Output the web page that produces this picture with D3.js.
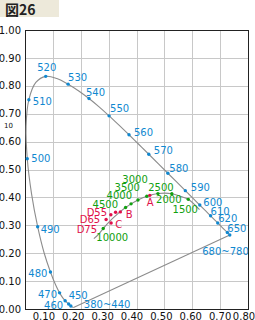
<!DOCTYPE html>
<html>
<head>
<meta charset="utf-8">
<script src="https://cdn.jsdelivr.net/npm/d3@7"></script>
<style>
  body { margin: 0; background: #fff; }
  svg text { font-family: "DejaVu Sans", sans-serif; font-size: 10px; }
</style>
</head>
<body>
<div id="chart"></div>
<script>
// spectral locus (CIE 1931 xy)
const locusNm = [380, 440, 445, 450, 455, 460, 465, 470, 475, 480, 485, 490, 495, 500, 505, 510, 515, 520, 525, 530, 535, 540, 545, 550, 555, 560, 565, 570, 575, 580, 585, 590, 595, 600, 605, 610, 620, 630, 640, 650, 680];
const locusX = [0.1741, 0.1644, 0.1611, 0.1566, 0.1510, 0.1440, 0.1355, 0.1241, 0.1096, 0.0913, 0.0687, 0.0454, 0.0235, 0.0082, 0.0039, 0.0139, 0.0389, 0.0743, 0.1142, 0.1547, 0.1929, 0.2296, 0.2658, 0.3016, 0.3373, 0.3731, 0.4087, 0.4441, 0.4788, 0.5125, 0.5448, 0.5752, 0.6029, 0.6270, 0.6482, 0.6658, 0.6915, 0.7079, 0.7190, 0.7260, 0.7347];
const locusY = [0.0050, 0.0109, 0.0138, 0.0177, 0.0227, 0.0297, 0.0399, 0.0578, 0.0868, 0.1327, 0.2007, 0.2950, 0.4127, 0.5384, 0.6548, 0.7502, 0.8120, 0.8338, 0.8262, 0.8059, 0.7816, 0.7543, 0.7243, 0.6923, 0.6589, 0.6245, 0.5896, 0.5547, 0.5202, 0.4866, 0.4544, 0.4242, 0.3965, 0.3725, 0.3514, 0.3340, 0.3083, 0.2920, 0.2809, 0.2740, 0.2653];

// labelled wavelengths (blue dots)
const waveLabels = ["380~440", "450", "460", "470", "480", "490", "500", "510", "520", "530", "540", "550", "560", "570", "580", "590", "600", "610", "620", "650", "680~780"];
const waveX = [0.1644, 0.1566, 0.1440, 0.1241, 0.0913, 0.0454, 0.0082, 0.0139, 0.0743, 0.1547, 0.2296, 0.3016, 0.3731, 0.4441, 0.5125, 0.5752, 0.6270, 0.6658, 0.6915, 0.7260, 0.7347];
const waveY = [0.0109, 0.0177, 0.0297, 0.0578, 0.1327, 0.2950, 0.5384, 0.7502, 0.8338, 0.8059, 0.7543, 0.6923, 0.6245, 0.5547, 0.4866, 0.4242, 0.3725, 0.3340, 0.3083, 0.2740, 0.2653];

// blackbody locus line
const bbLineX = [0.247, 0.2637, 0.2807, 0.2952, 0.3135, 0.3324, 0.3451, 0.3608, 0.3805, 0.4053, 0.4369, 0.4770, 0.5267, 0.5600, 0.5857, 0.6260];
const bbLineY = [0.252, 0.2674, 0.2884, 0.3048, 0.3236, 0.3410, 0.3516, 0.3636, 0.3768, 0.3907, 0.4041, 0.4137, 0.4133, 0.4030, 0.3931, 0.3560];

// colour temperatures (green dots)
const tempLabels = ["10000", "4500", "4000", "3500", "3000", "2500", "2000", "1500"];
const tempX = [0.2807, 0.3608, 0.3805, 0.4053, 0.4369, 0.4770, 0.5267, 0.5857];
const tempY = [0.2884, 0.3636, 0.3768, 0.3907, 0.4041, 0.4137, 0.4133, 0.3931];

// standard illuminants (red dots)
const illumLabels = ["A", "B", "C", "D55", "D65", "D75"];
const illumX = [0.4476, 0.342, 0.309, 0.325, 0.308, 0.291];
const illumY = [0.4074, 0.348, 0.308, 0.347, 0.338, 0.321];

// tick labels
const xTicks = [0.1, 0.2, 0.3, 0.4, 0.5, 0.6, 0.7, 0.8];
const yTicks = [0, 0.1, 0.2, 0.3, 0.4, 0.5, 0.6, 0.7, 0.8, 0.9, 1.0];

(function(){
  "use strict";

  const W = 255, H = 320;
  const left = 25, right = 248, top = 30, bottom = 309;

  const blue = "#1088d0", green = "#10a010", red = "#e0104a", lineGrey = "#8c8c8c";

  // label placement (px offset from the dot, anchor) - style only
  const waveLabelPos = {
    "380~440": [13, -2, "start"], "450": [0, -9, "start"], "460": [-2, 5, "end"],
    "470": [-2.5, 2, "end"], "480": [-3, 1.5, "end"], "490": [3, 3, "start"],
    "500": [4, 0, "start"], "510": [4, 2, "start"], "520": [1, -9, "middle"],
    "530": [0, -7, "start"], "540": [-3, -6, "start"], "550": [1, -7, "start"],
    "560": [5, -2.5, "start"], "570": [5, -3.5, "start"], "580": [1.5, -4.5, "start"],
    "590": [5.5, -3.5, "start"], "600": [3.5, -3, "start"], "610": [0, -4, "start"],
    "620": [0.5, -4.5, "start"], "650": [0, -4.5, "start"], "680~780": [19, 16, "end"]
  };
  const tempLabelPos = {
    "10000": [9, 8.5, "middle"], "4500": [-7.5, -3.5, "end"], "4000": [1, -8, "end"],
    "3500": [2, -12.3, "end"], "3000": [1, -17, "end"], "2500": [3, -6.3, "middle"],
    "2000": [-3, 5.6, "middle"], "1500": [-3, 10, "middle"]
  };
  const illumLabelPos = {
    "A": [0.5, 7.4, "middle"], "B": [5.5, 2.7, "start"], "C": [4, 1.2, "start"],
    "D55": [-8.5, 0.4, "end"], "D65": [-10.7, 5, "end"], "D75": [-9, 9.8, "end"]
  };

  const svg = d3.select("#chart").append("svg")
    .attr("width", W).attr("height", H);

  // title tab
  svg.append("rect").attr("x", 0).attr("y", 0).attr("width", 59).attr("height", 17)
    .attr("fill", "#ede9da");
  svg.append("text").attr("x", 5).attr("y", 15)
    .style("font-family", "'Noto Sans CJK JP', sans-serif")
    .style("font-size", "14px").style("font-weight", "bold")
    .attr("fill", "#222").text("図26");

  const x = d3.scaleLinear().domain([0, 0.8]).range([left, right]);
  const y = d3.scaleLinear().domain([0, 1]).range([bottom, top]);

  // grid via axes, labels removed
  svg.append("g").attr("transform", `translate(0,${bottom})`)
    .call(d3.axisBottom(x).tickValues(xTicks).tickSize(-(bottom - top)).tickFormat(""))
    .call(g => g.select(".domain").remove())
    .call(g => g.selectAll("line").attr("stroke", "#c8c8c8").attr("shape-rendering", "crispEdges"));
  svg.append("g").attr("transform", `translate(${left},0)`)
    .call(d3.axisLeft(y).tickValues(yTicks).tickSize(-(right - left)).tickFormat(""))
    .call(g => g.select(".domain").remove())
    .call(g => g.selectAll("line").attr("stroke", "#c8c8c8").attr("shape-rendering", "crispEdges"));

  svg.append("rect")
    .attr("x", left).attr("y", top)
    .attr("width", right - left).attr("height", bottom - top)
    .attr("fill", "none").attr("stroke", "#222").attr("shape-rendering", "crispEdges");

  // tick text
  svg.selectAll(".ylab").data(yTicks).enter().append("text")
    .attr("x", 21).attr("y", d => y(d) + 3.6)
    .attr("text-anchor", "end").attr("fill", "#111")
    .text(d => d.toFixed(2));

  // x labels drift a little left of the grid in the original
  svg.selectAll(".xlab").data(xTicks).enter().append("text")
    .attr("x", d => Math.min(x(d) - (0.7 - d) * 15, W - 11))
    .attr("y", 319.5)
    .attr("text-anchor", "middle").attr("fill", "#111")
    .text(d => d.toFixed(2));

  svg.append("text").attr("x", 4).attr("y", 127.5)
    .style("font-size", "7px").attr("fill", "#111").text("10");

  const line = d3.line().x(d => x(d[0])).y(d => y(d[1]));

  // spectral locus + purple line
  const locus = locusX.map((v, i) => [v, locusY[i]]);
  svg.append("path").datum(locus).attr("d", line.curve(d3.curveCatmullRom))
    .attr("fill", "none").attr("stroke", lineGrey).attr("stroke-width", 1.1);
  svg.append("path").datum([locus[locus.length - 1], locus[0]]).attr("d", line.curve(d3.curveLinear))
    .attr("fill", "none").attr("stroke", lineGrey).attr("stroke-width", 1.1);

  // blackbody locus
  const bb = bbLineX.map((v, i) => [v, bbLineY[i]]);
  svg.append("path").datum(bb).attr("d", line.curve(d3.curveCatmullRom))
    .attr("fill", "none").attr("stroke", lineGrey).attr("stroke-width", 1.1);

  // draws a set of dots with labels
  function markSet(labels, xs, ys, pos, colour){
    const data = labels.map((l, i) => ({ label: l, x: xs[i], y: ys[i] }));
    const g = svg.append("g");
    g.selectAll("circle").data(data).enter().append("circle")
      .attr("cx", d => x(d.x)).attr("cy", d => y(d.y)).attr("r", 1.7)
      .attr("fill", colour);
    g.selectAll("text").data(data).enter().append("text")
      .attr("x", d => x(d.x) + pos[d.label][0])
      .attr("y", d => y(d.y) + pos[d.label][1] + 3.6)
      .attr("text-anchor", d => pos[d.label][2])
      .attr("fill", colour)
      .text(d => d.label);
  }

  markSet(waveLabels, waveX, waveY, waveLabelPos, blue);
  markSet(tempLabels, tempX, tempY, tempLabelPos, green);
  markSet(illumLabels, illumX, illumY, illumLabelPos, red);
})();
</script>
</body>
</html>
